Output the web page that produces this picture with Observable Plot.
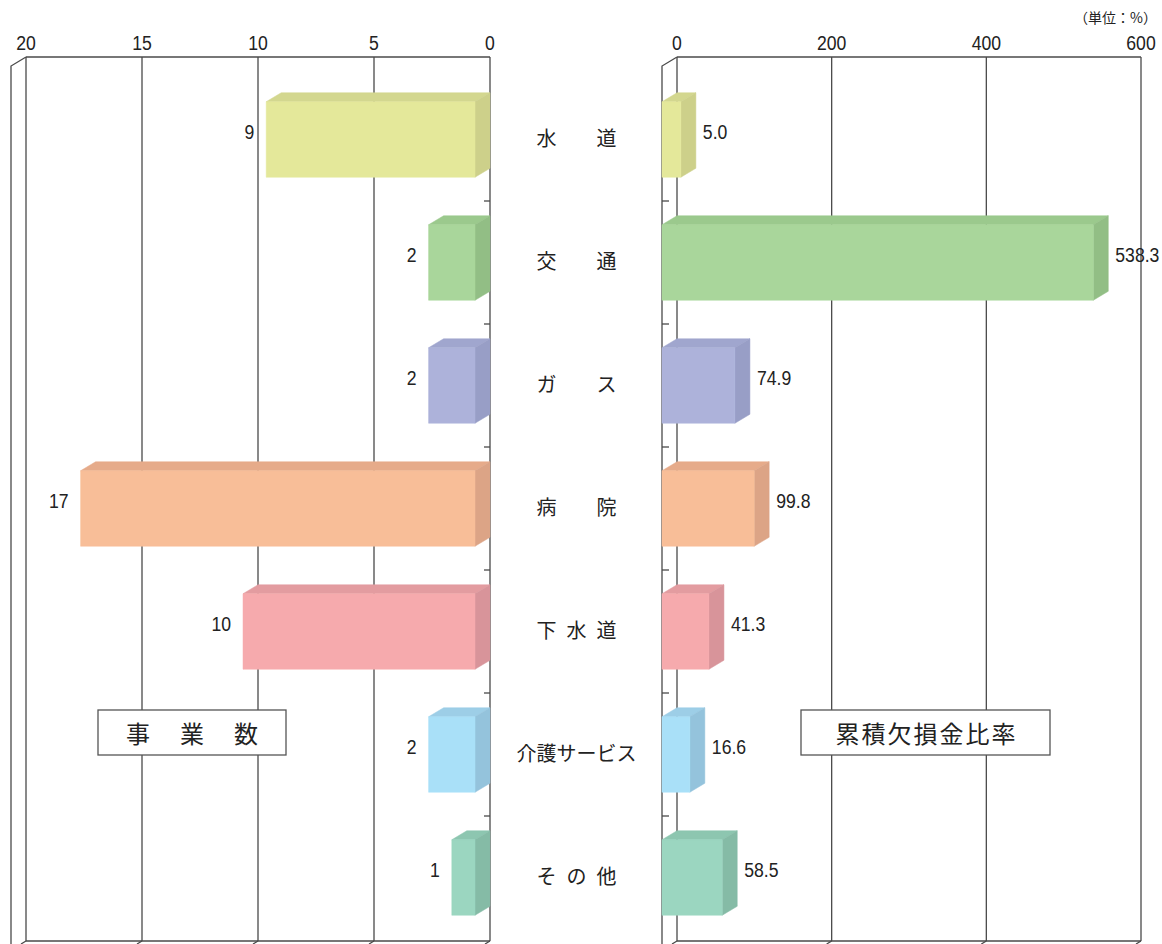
<!DOCTYPE html>
<html><head><meta charset="utf-8">
<script src="https://cdn.jsdelivr.net/npm/d3@7"></script>
<script src="https://cdn.jsdelivr.net/npm/@observablehq/plot@0.6"></script>
<style>
body{margin:0;background:#fff;}
#wrap{position:relative;width:1162px;height:944px;overflow:hidden;background:#fff;}
#left{position:absolute;left:0;top:0;}
#right{position:absolute;left:640px;top:0;}
#unit{position:absolute;right:5px;top:10px;font:14px/1 "Noto Sans CJK JP",sans-serif;color:#222;white-space:nowrap;}
</style></head><body>
<div id="wrap"><div id="left"></div><div id="right"></div><div id="unit">（単位：%）</div></div>
<script>
// ---- data ----
const categories = ["水道","交通","ガス","病院","下水道","介護サービス","その他"];
const categoryLabels = ["水\u3000\u3000道","交\u3000\u3000通","ガ\u3000\u3000ス","病\u3000\u3000院","下\u2002水\u2002道","介護サービス","そ\u2002の\u2002他"];
const businessCounts = [9, 2, 2, 17, 10, 2, 1];
const deficitRatios = [5.0, 538.3, 74.9, 99.8, 41.3, 16.6, 58.5];
const leftTicks = [20, 15, 10, 5, 0];
const rightTicks = [0, 200, 400, 600];
const leftTitle = "事\u3000業\u3000数";
const rightTitle = "累積欠損金比率";
const frontColors = ["#e4e89a","#a9d69b","#adb2da","#f8be98","#f6aaad","#a9e0f8","#9bd6c0"];
const topColors   = ["#d3d78f","#9bc98d","#a0a6ce","#e6ab8a","#e39ca0","#9dcee7","#8dc6b0"];
const sideColors  = ["#cdd08a","#92be85","#989ec6","#dca486","#d8949a","#94c3dc","#85bba6"];

const DX = 15, DY = 9, BAR = 0.614;
const numFont = '"Liberation Sans",Arial,sans-serif';
const cjkFont = '"Noto Sans CJK JP",sans-serif';
const lineColor = "#4a4a4a";
const NUM_SIZE = 21, NUM_SQUEEZE = 0.84;

function bandwidthOf(y) {
  return y.bandwidth ? y.bandwidth() : 866 / categories.length;
}

function numText(g, x, y, anchor, str) {
  g.append("text")
    .attr("transform", `translate(${x},${y}) scale(${NUM_SQUEEZE},1)`)
    .attr("text-anchor", anchor)
    .attr("font-family", numFont).attr("font-size", NUM_SIZE).attr("fill", "#222")
    .text(str);
}

// frame, gridlines, wall, ticks and tick labels
function frame3d(side, ticks) {
  return (index, scales, vals, dims) => {
    const x = scales.x, y = scales.y;
    const bw = bandwidthOf(y);
    const top = dims.marginTop, bottom = dims.height - dims.marginBottom;
    const g = d3.create("svg:g");
    const lines = g.append("g").attr("stroke", lineColor).attr("stroke-width", 1.3).attr("fill", "none");
    // back plane: gridlines, top and bottom edges
    ticks.forEach(t => lines.append("path").attr("d", `M${x(t)},${top}L${x(t)},${bottom}`));
    const xa = d3.min(ticks, t => x(t)), xb = d3.max(ticks, t => x(t));
    lines.append("path").attr("d", `M${xa},${top}L${xb},${top}`);
    lines.append("path").attr("d", `M${xa},${bottom}L${xb},${bottom}`);
    // front wall edge + slant
    lines.append("path").attr("d", `M${xa},${top}L${xa - DX},${top + DY}L${xa - DX},${dims.height + 2}`);
    // floor slants
    ticks.forEach(t => lines.append("path").attr("d", `M${x(t)},${bottom}L${x(t) - 5},${bottom + 3}`));
    // category separators
    const ax = side === "left" ? x(0) : x(0) - DX;
    const dir = side === "left" ? -6 : 7;
    categories.slice(0, -1).forEach(c => {
      const yy = y(c) + bw;
      lines.append("path").attr("d", `M${ax},${yy}L${ax + dir},${yy}`);
    });
    // tick labels
    ticks.forEach(t => numText(g, x(t), top - 7, "middle", String(t)));
    return g.node();
  };
}

function bars3d(values, side, fmt) {
  return (index, scales) => {
    const x = scales.x, y = scales.y;
    const bw = bandwidthOf(y);
    const g = d3.create("svg:g");
    const poly = (pts, fill) => g.append("polygon")
      .attr("points", pts.map(p => p.join(",")).join(" ")).attr("fill", fill)
      .attr("stroke", fill).attr("stroke-width", 0.5);
    categories.forEach((c, i) => {
      const cy = y(c) + bw / 2;
      const h = bw * BAR;
      const fy0 = cy - h / 2, fy1 = cy + h / 2;
      let fx0, fx1;
      if (side === "left") { fx0 = x(values[i]) - DX; fx1 = x(0) - DX; }
      else { fx0 = x(0) - DX; fx1 = x(values[i]); }
      poly([[fx0, fy0], [fx0 + DX, fy0 - DY], [fx1 + DX, fy0 - DY], [fx1, fy0]], topColors[i]);
      poly([[fx1, fy0], [fx1 + DX, fy0 - DY], [fx1 + DX, fy1 - DY], [fx1, fy1]], sideColors[i]);
      poly([[fx0, fy0], [fx1, fy0], [fx1, fy1], [fx0, fy1]], frontColors[i]);
      const ly = cy - DY + 8;
      if (side === "left") numText(g, fx0 - 12, ly, "end", fmt(values[i]));
      else numText(g, fx1 + DX + 7, ly, "start", fmt(values[i]));
    });
    return g.node();
  };
}

function titleBox(text, cx, cy, w, h, size, spacing) {
  return () => {
    const g = d3.create("svg:g");
    g.append("rect").attr("x", cx - w / 2).attr("y", cy - h / 2).attr("width", w).attr("height", h)
      .attr("fill", "#fff").attr("stroke", "#555").attr("stroke-width", 1.3);
    g.append("text").attr("x", cx + spacing / 2).attr("y", cy).attr("text-anchor", "middle")
      .attr("dominant-baseline", "central").attr("font-family", cjkFont).attr("font-size", size)
      .attr("letter-spacing", spacing).attr("fill", "#222").text(text);
    return g.node();
  };
}

const common = {
  height: 944,
  marginTop: 57,
  marginBottom: 3,
  style: {fontFamily: numFont, fontSize: "21px", color: "#222", background: "transparent", overflow: "visible"}
};

const idx = d3.range(categories.length);

const left = Plot.plot({
  ...common,
  width: 640,
  marginLeft: 26,
  marginRight: 150,
  x: {domain: [0, 20], reverse: true, axis: null},
  y: {type: "band", domain: categories, range: [75, 941], padding: 0, axis: null},
  marks: [
    frame3d("left", leftTicks),
    bars3d(businessCounts, "left", v => String(v)),
    Plot.text(idx, {x: () => 0, y: i => categories[i], text: i => categoryLabels[i],
      textAnchor: "middle", dx: 86, fontSize: 20, fontFamily: cjkFont, fill: "#222"}),
    titleBox(leftTitle, 192, 732.5, 188, 45, 24, 3)
  ]
});

const right = Plot.plot({
  ...common,
  width: 522,
  marginLeft: 37,
  marginRight: 21,
  x: {domain: [0, 600], axis: null},
  y: {type: "band", domain: categories, range: [75, 941], padding: 0, axis: null},
  marks: [
    frame3d("right", rightTicks),
    bars3d(deficitRatios, "right", v => v.toFixed(1)),
    titleBox(rightTitle, 285.5, 732.5, 249, 45, 24, 2)
  ]
});

document.getElementById("left").appendChild(left);
document.getElementById("right").appendChild(right);
</script>
</body></html>
